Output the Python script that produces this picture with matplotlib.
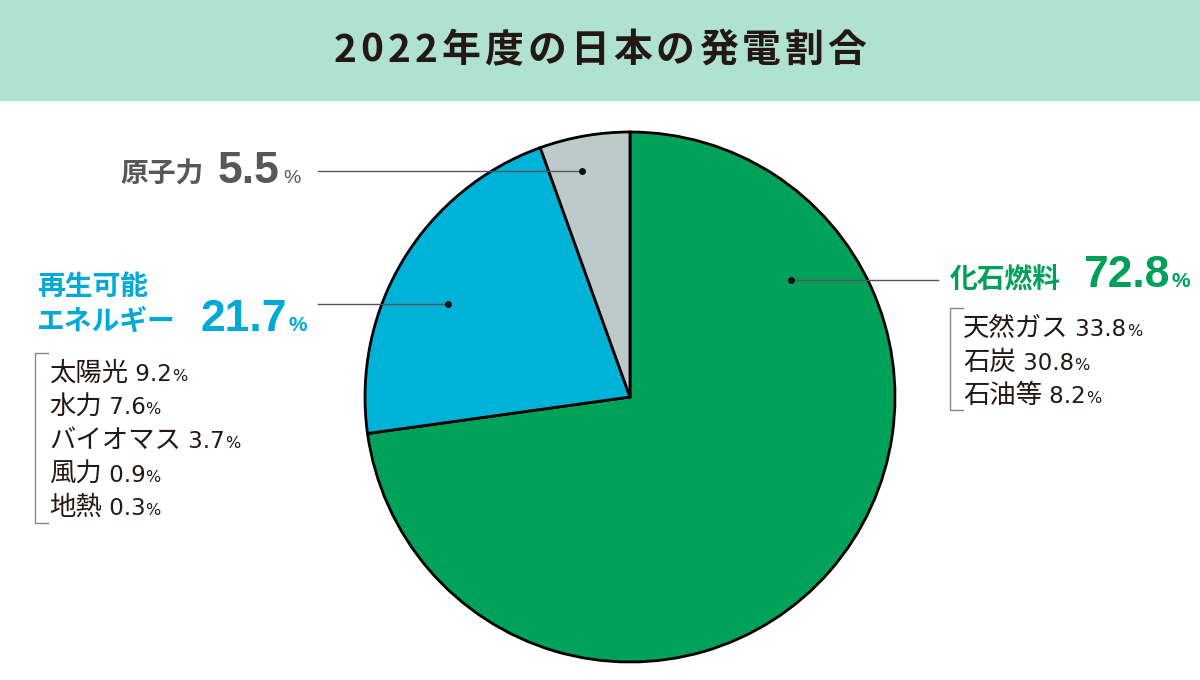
import matplotlib.pyplot as plt
from matplotlib.patches import Rectangle

plt.rcParams['font.family'] = ['Noto Sans CJK JP', 'DejaVu Sans']

# data
title = "2022年度の日本の発電割合"
categories = ["化石燃料", "再生可能\nエネルギー", "原子力"]
shares = [72.8, 21.7, 5.5]
colors = ["#00A159", "#00B1D8", "#BCCACA"]
renew_items = ["太陽光", "水力", "バイオマス", "風力", "地熱"]
renew_values = [9.2, 7.6, 3.7, 0.9, 0.3]
fossil_items = ["天然ガス", "石炭", "石油等"]
fossil_values = [33.8, 30.8, 8.2]

W, H = 1200, 680
fig = plt.figure(figsize=(12, 6.8), dpi=100)
ax = fig.add_axes([0, 0, 1, 1])
ax.set_xlim(0, W)
ax.set_ylim(0, H)
ax.set_aspect('equal')
ax.axis('off')


def Y(py):
    return H - py


# pie
cx, cy, r = 630, Y(397), 265
wedges, _ = ax.pie(shares, colors=colors, startangle=90, counterclock=False,
                   center=(cx, cy), radius=r,
                   wedgeprops=dict(edgecolor='black', linewidth=2))
ax.set_xlim(0, W)
ax.set_ylim(0, H)

fig.canvas.draw()
renderer = fig.canvas.get_renderer()

NUM = 'Liberation Sans'
SUBNUM = 'DejaVu Sans'
CJK = 'Noto Sans CJK JP'


def seq(x, py, parts, gap=0):
    # draw text parts one after another on one baseline
    for s, size, weight, color, fam in parts:
        t = ax.text(x, Y(py), s, fontsize=size, fontweight=weight, color=color,
                    ha='left', va='baseline', family=[fam, 'DejaVu Sans'])
        bb = t.get_window_extent(renderer)
        x += bb.width + gap
    return x


def leader(x0, x1, py, dot_x):
    ax.plot([x0, x1], [Y(py), Y(py)], color="#555555", lw=1, zorder=5)
    ax.plot([dot_x], [Y(py)], 'o', color="#111111", ms=4, zorder=6)


def bracket(x, y0, y1, tick):
    ax.plot([x + tick, x, x, x + tick], [Y(y0), Y(y0), Y(y1), Y(y1)],
            color="#888888", lw=1)


# header band and title (letter-spaced)
ax.add_patch(Rectangle((0, Y(100)), W, 100, color="#B0E2D2", zorder=0))
tparts = [(ch, 28, 'bold', "#231815", CJK) for ch in title]
probe = [ax.text(0, 0, ch, fontsize=28, fontweight='bold',
                 family=[CJK]) for ch in title]
tw = sum(p.get_window_extent(renderer).width for p in probe) + 4 * (len(title) - 1)
for p in probe:
    p.remove()
seq(600 - tw / 2, 62, tparts, gap=4)

# nuclear
gray_txt = "#595757"
seq(120, 183, [(categories[2], 20, 'bold', gray_txt, CJK)])
seq(218, 183, [(f"{shares[2]}", 32, 'bold', gray_txt, NUM),
               ("%", 14, 'normal', gray_txt, NUM)], gap=3)
leader(318, 582, 171, 582)

# renewable
blue_txt = "#00A9D6"
rl1, rl2 = categories[1].split("\n")
seq(37, 295, [(rl1, 20, 'bold', blue_txt, CJK)])
seq(37, 330, [(rl2, 20, 'bold', blue_txt, CJK)])
seq(200, 331, [(f"{shares[1]}", 32, 'bold', blue_txt, NUM),
               ("%", 15, 'bold', blue_txt, NUM)], gap=2)
leader(318, 448, 304, 448)
bracket(35, 353, 523, 13)
ink = "#231815"
for i, (name, v) in enumerate(zip(renew_items, renew_values)):
    seq(49, 381 + i * 33.5, [(name, 19, 'normal', ink, CJK),
                             (f" {v}", 16.5, 'normal', ink, SUBNUM),
                             ("%", 11.5, 'normal', ink, SUBNUM)], gap=0)

# fossil
green_txt = "#00A05A"
seq(950, 288, [(categories[0], 20, 'bold', green_txt, CJK)])
seq(1083, 287, [(f"{shares[0]}", 32, 'bold', green_txt, NUM),
                ("%", 15, 'bold', green_txt, NUM)], gap=2)
leader(791, 938, 280, 791)
bracket(950, 308, 410, 13)
for i, (name, v) in enumerate(zip(fossil_items, fossil_values)):
    seq(963, 336 + i * 33.5, [(name, 19, 'normal', ink, CJK),
                              (f" {v}", 16.5, 'normal', ink, SUBNUM),
                              ("%", 11.5, 'normal', ink, SUBNUM)], gap=0)

plt.savefig("out.png", dpi=100)
plt.close(fig)
